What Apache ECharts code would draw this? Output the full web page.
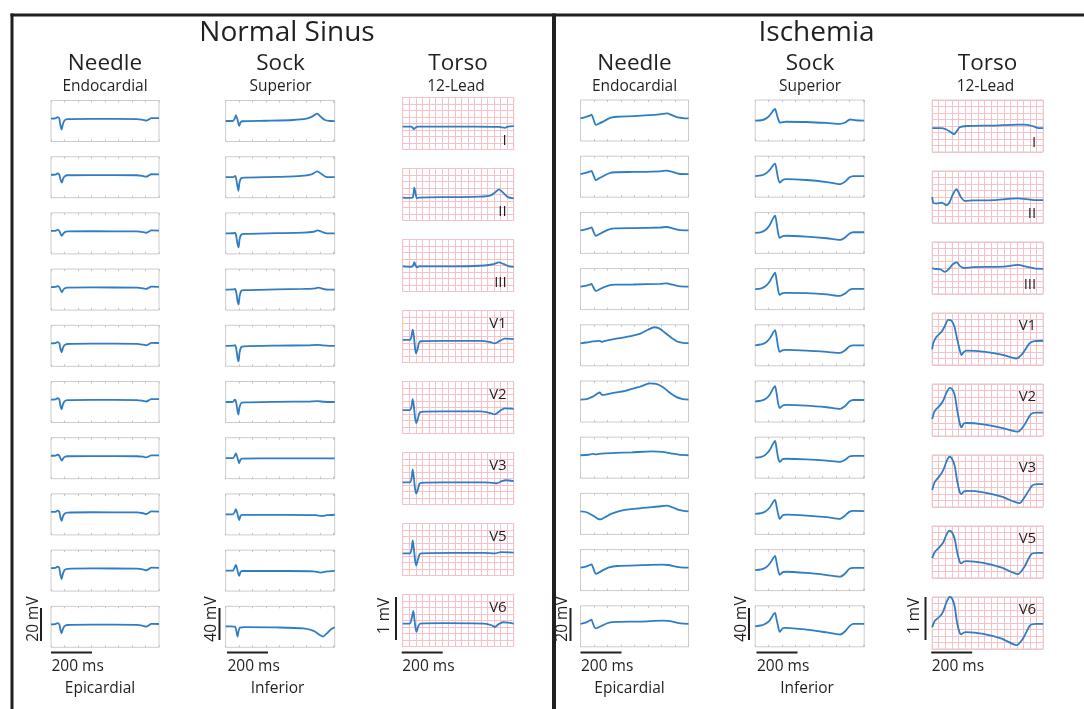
<!DOCTYPE html>
<html><head><meta charset="utf-8">
<script src="https://cdn.jsdelivr.net/npm/echarts@6/dist/echarts.min.js"></script>
<style>html,body{margin:0;padding:0;background:#fff}#c{width:1084px;height:709px}</style>
</head><body><div id="c"></div>
<script>
// ---------- text ----------
const panelTitles = ['Normal Sinus', 'Ischemia'];
const columnHeaders = ['Needle', 'Sock', 'Torso'];
const columnSubHeaders = ['Endocardial', 'Superior', '12-Lead'];
const columnFooters = ['Epicardial', 'Inferior', ''];
const leadLabels = ['I', 'II', 'III', 'V1', 'V2', 'V3', 'V5', 'V6'];
const voltageScaleLabels = ['20 mV', '40 mV', '1 mV'];
const timeScaleLabel = '200 ms';

// ---------- data: [time ms, voltage mV] ----------
const nsNeedle = [
 [[0,0],[22,0.1],[32,0.9],[40,0.2],[46,-4],[52,-6.7],[58,-3.5],[66,-1.2],[80,-0.4],[200,-0.2],[420,-0.3],[450,-0.8],[465,-1.3],[478,-0.6],[490,0.3],[528,0.2]],
 [[0,0],[22,0.1],[32,0.8],[40,0.2],[46,-2.8],[53,-4.8],[59,-2.5],[67,-1],[80,-0.3],[200,-0.2],[420,-0.3],[450,-0.8],[465,-1.2],[478,-0.5],[490,0.3],[528,0.2]],
 [[0,0],[22,0.1],[32,0.7],[40,0.1],[47,-1.8],[53,-3],[60,-1.6],[68,-0.7],[80,-0.3],[200,-0.2],[420,-0.3],[450,-0.7],[465,-1.1],[478,-0.4],[490,0.3],[528,0.2]],
 [[0,0],[22,0.1],[32,0.6],[40,0.1],[47,-1.8],[53,-3.1],[60,-1.6],[68,-0.7],[80,-0.3],[200,-0.2],[420,-0.3],[450,-0.7],[465,-1.1],[478,-0.4],[490,0.3],[528,0.2]],
 [[0,0],[22,0.1],[32,0.8],[40,0.2],[46,-3.2],[52,-5.5],[58,-2.9],[66,-1.1],[80,-0.4],[200,-0.2],[420,-0.3],[450,-0.8],[465,-1.2],[478,-0.5],[490,0.3],[528,0.2]],
 [[0,0],[22,0.1],[32,0.8],[40,0.2],[46,-3.5],[52,-6],[58,-3.1],[66,-1.1],[80,-0.4],[200,-0.2],[420,-0.3],[450,-0.8],[465,-1.2],[478,-0.5],[490,0.3],[528,0.2]],
 [[0,0],[22,0.1],[32,0.6],[40,0.1],[47,-1.8],[53,-3],[60,-1.5],[68,-0.6],[80,-0.3],[200,-0.2],[420,-0.3],[450,-0.6],[465,-1],[478,-0.4],[490,0.2],[528,0.2]],
 [[0,0],[22,0.1],[32,0.8],[40,0.2],[46,-3.2],[52,-5.5],[58,-2.9],[66,-1.1],[80,-0.4],[200,-0.2],[420,-0.3],[450,-0.8],[465,-1.3],[478,-0.5],[490,0.3],[528,0.2]],
 [[0,0],[22,0.1],[32,0.9],[40,0.2],[46,-4],[52,-6.7],[58,-3.5],[66,-1.2],[80,-0.4],[200,-0.2],[420,-0.3],[450,-0.8],[465,-1.3],[478,-0.6],[490,0.3],[528,0.2]],
 [[0,0],[22,0.1],[32,0.8],[40,0.2],[46,-3.2],[52,-5.5],[58,-2.9],[66,-1.1],[80,-0.4],[200,-0.2],[420,-0.3],[450,-0.9],[465,-1.4],[478,-0.6],[490,0.3],[528,0.2]]
];
const nsSock = [
 [[0,0],[35,0],[44,3],[50,7],[56,3],[62,-3],[66,-6],[72,-2],[80,-0.3],[200,0.3],[330,1.2],[390,2.5],[420,5],[447,9],[465,5],[485,1.2],[510,0],[533,-0.2]],
 [[0,0],[38,0.2],[46,1.5],[52,-3],[58,-12],[62,-16.6],[67,-7],[75,-1.5],[90,-0.5],[250,0.4],[370,1.5],[420,3.5],[448,7],[468,4],[490,0.5],[533,0]],
 [[0,0],[38,0.2],[46,1],[52,-4],[58,-13],[63,-17],[68,-7],[76,-1.5],[90,-0.5],[250,0.3],[380,1],[430,2],[450,3.6],[470,2],[495,0],[533,0]],
 [[0,0],[38,0.2],[46,0.8],[52,-4],[58,-14],[63,-18],[68,-8],[76,-1.5],[90,-0.6],[250,0.2],[380,0.8],[440,1.6],[455,2.4],[475,1],[500,0],[533,0]],
 [[0,0],[38,0.2],[46,0.8],[52,-4],[58,-15],[63,-19],[68,-8],[76,-1.6],[90,-0.6],[250,0.2],[400,0.6],[450,1.2],[475,0.5],[505,0],[533,0]],
 [[0,0],[36,0.2],[44,3],[50,1],[56,-8],[62,-15.5],[67,-7],[75,-1.5],[90,-0.5],[250,0.2],[400,0.5],[450,1],[480,0.3],[533,0]],
 [[0,0],[35,0],[44,3],[50,6],[56,2],[62,-3.5],[66,-6],[72,-2],[80,-0.4],[250,-0.3],[400,-0.3],[533,-0.2]],
 [[0,0],[35,0],[44,3],[50,6.5],[56,2],[62,-4],[66,-7],[72,-2],[80,-0.5],[300,-0.5],[440,-1],[470,-2],[495,-1],[533,-0.4]],
 [[0,0],[35,0],[44,4],[50,7],[56,2],[62,-4],[66,-6.5],[72,-2],[80,-0.5],[300,-0.5],[430,-1],[465,-2.4],[495,-1],[533,-0.3]],
 [[0,0.5],[38,0.3],[46,0.2],[52,-5],[58,-12],[63,-5],[70,-1],[90,-0.5],[250,-0.8],[380,-2],[430,-5],[460,-10],[475,-12],[495,-8],[515,-3],[533,-0.5]]
];
const nsTorso = [
 [[0,-0.07],[40,-0.07],[48,-0.09],[55,-0.13],[63,-0.09],[75,-0.07],[200,-0.07],[350,-0.07],[470,-0.08],[500,-0.1],[515,-0.07],[543,-0.06]],
 [[0,-0.07],[40,-0.08],[50,-0.06],[57,0.16],[63,0.02],[70,-0.09],[80,-0.07],[250,-0.06],[380,-0.05],[430,-0.02],[455,0.06],[471,0.12],[490,0.05],[515,-0.06],[543,-0.09]],
 [[0,-0.02],[40,-0.03],[50,-0.01],[57,0.08],[63,0],[70,-0.04],[80,-0.02],[250,-0.02],[400,0],[445,0.03],[470,0.07],[495,0.03],[520,-0.02],[543,-0.03]],
 [[0,-0.08],[35,-0.08],[43,0.0],[49,0.16],[55,0.0],[60,-0.25],[65,-0.39],[72,-0.3],[80,-0.15],[88,-0.11],[200,-0.1],[380,-0.1],[430,-0.13],[450,-0.16],[475,-0.1],[499,-0.05],[543,-0.06]],
 [[0,-0.06],[35,-0.06],[43,0.02],[49,0.19],[55,0.02],[60,-0.22],[66,-0.36],[73,-0.28],[82,-0.13],[90,-0.1],[200,-0.09],[380,-0.09],[430,-0.13],[450,-0.16],[475,-0.08],[499,-0.02],[543,-0.03]],
 [[0,-0.09],[35,-0.09],[43,0.0],[49,0.21],[55,0.0],[60,-0.22],[66,-0.35],[73,-0.27],[82,-0.12],[90,-0.1],[200,-0.09],[400,-0.09],[440,-0.1],[460,-0.11],[485,-0.06],[505,-0.04],[543,-0.06]],
 [[0,-0.09],[35,-0.09],[43,0.0],[49,0.21],[55,0.0],[60,-0.22],[66,-0.37],[73,-0.26],[82,-0.12],[90,-0.09],[250,-0.08],[400,-0.08],[450,-0.09],[480,-0.06],[543,-0.07]],
 [[0,-0.07],[35,-0.07],[44,0.05],[52,0.22],[58,0.0],[63,-0.18],[68,-0.26],[75,-0.15],[85,-0.07],[200,-0.06],[400,-0.07],[435,-0.11],[450,-0.15],[470,-0.08],[490,-0.04],[515,-0.05],[543,-0.07]]
];
const isNeedle = [
 [[0,-0.2],[25,0.5],[45,1.5],[54,2],[60,0.5],[68,-2.5],[75,-4.2],[90,-3.4],[110,-2.2],[130,-0.8],[150,0.2],[180,0.8],[260,1.2],[387,2.2],[422,2.8],[450,1.6],[474,0.4],[500,0],[528,-0.2]],
 [[0,0.1],[25,0.8],[45,1.6],[54,2.1],[60,0.5],[68,-2],[75,-3.5],[90,-2.5],[110,-1.2],[140,0.6],[170,1.2],[260,1.4],[390,1.8],[420,2.2],[450,1.4],[480,0.3],[528,0.1]],
 [[0,0],[25,0.6],[45,1.4],[54,1.9],[60,0.4],[68,-2],[75,-3.3],[90,-2.4],[110,-1],[140,0.6],[170,1.2],[260,1.4],[390,1.8],[420,2.1],[450,1.3],[480,0.3],[528,0]],
 [[0,0],[25,0.5],[45,1.2],[54,1.6],[60,0.3],[68,-1.6],[75,-2.6],[90,-1.8],[110,-0.6],[140,0.8],[170,1.2],[260,1.3],[390,1.7],[420,2],[450,1.2],[480,0.3],[528,0]],
 [[0,-0.3],[30,0.2],[60,0.9],[95,1.2],[105,0.5],[115,1],[150,2],[220,3.5],[290,5.5],[330,8],[360,9.5],[385,8.8],[410,6.5],[440,3.5],[470,1],[500,0],[528,-0.2]],
 [[0,-0.3],[30,0],[60,1.5],[85,3.5],[95,4],[105,2.5],[115,2.5],[150,3.5],[220,5],[290,7.5],[340,9.5],[370,9.2],[400,7.5],[430,4.5],[465,1.5],[500,0],[528,-0.3]],
 [[0,0],[40,0.3],[60,0.8],[75,0.5],[90,0.8],[150,1.3],[250,1.8],[350,2.3],[400,2],[440,1.2],[480,0.4],[528,0]],
 [[0,0],[30,-0.5],[60,-2.5],[85,-4.5],[100,-4.8],[120,-3.5],[150,-1.5],[200,0.5],[280,1.8],[380,3],[420,3.5],[450,2.5],[480,1],[528,0]],
 [[0,0],[25,0.6],[45,1.6],[54,2],[60,0.5],[68,-2.2],[75,-3.8],[90,-3],[110,-1.5],[140,0.2],[180,1],[300,1.5],[400,1.8],[430,1.6],[460,0.8],[490,0.2],[528,0]],
 [[0,0],[25,0.8],[45,2],[54,2.5],[60,0.5],[68,-2],[75,-2.8],[90,-2],[110,-0.8],[140,0.8],[180,1.2],[300,1.4],[400,1.9],[430,1.8],[460,1],[490,0.3],[528,0]]
];
const isSock = [
 [[0,-0.2],[30,0.3],[50,2],[70,6],[88,12],[97,14],[104,9],[112,2],[122,-2.7],[135,-2],[150,-1.5],[250,-1.8],[350,-3],[415,-4.2],[440,-2.5],[463,1.2],[490,0.3],[533,-0.2]],
 [[0,0.8],[30,1.5],[50,3.5],[70,8],[88,14],[97,16],[104,9],[112,-2],[120,-7.3],[135,-4],[150,-3],[250,-4],[350,-6.5],[415,-9.2],[440,-6],[460,-1],[480,0.8],[533,0.8]],
 [[0,0],[30,1],[50,3.5],[70,9],[88,18],[97,21],[104,13],[112,0],[120,-6],[135,-4],[150,-3.5],[250,-4.5],[350,-6.5],[415,-8.6],[440,-5.5],[460,-1],[480,0.8],[533,0.8]],
 [[0,0],[30,1],[50,3.5],[70,9],[88,17],[97,20],[104,12],[112,-1],[120,-7],[135,-4.8],[150,-4.5],[250,-5],[350,-6.5],[415,-8.3],[440,-5.5],[460,-1],[480,0.3],[533,0.3]],
 [[0,0],[30,1],[50,3],[70,8],[88,15.5],[97,18.5],[104,11],[112,-2],[120,-8],[135,-6],[150,-5.7],[250,-6.5],[350,-8],[415,-9.3],[440,-6],[460,-1.5],[480,0],[533,0]],
 [[0,0],[30,1],[50,3],[70,8],[88,16],[97,18.8],[104,11],[112,-2],[120,-7.9],[135,-4.8],[150,-4.2],[250,-5],[350,-7],[415,-9],[440,-5.5],[460,0],[480,1.8],[533,1.8]],
 [[0,0],[30,1],[50,3.5],[70,9],[88,17.5],[97,20.4],[104,12],[112,0],[120,-5],[135,-1.8],[150,-1.3],[250,-2],[350,-3.5],[415,-5],[440,-2.5],[460,1.5],[480,2.3],[533,2.3]],
 [[0,0],[30,1],[50,3],[70,7.5],[88,14.5],[97,17],[104,10],[112,0],[120,-6],[135,-1.5],[150,-1],[250,-2],[350,-4],[415,-6],[440,-2],[460,2.5],[480,3.7],[533,3.5]],
 [[0,0],[30,1],[50,3],[70,7.5],[88,14.5],[97,17.3],[104,10],[112,0],[120,-5.7],[135,-2.5],[150,-2],[250,-3.5],[350,-6],[415,-8],[440,-4],[460,1.5],[480,2.8],[533,2.8]],
 [[0,0],[30,1],[50,3],[70,7],[88,14],[97,16.3],[104,9],[112,0],[120,-6.7],[135,-2.5],[150,-1.8],[250,-4],[350,-7.5],[415,-10],[440,-6],[460,0],[480,3],[533,3]]
];
const isTorso = [
 [[0,-0.05],[40,-0.05],[70,-0.08],[90,-0.14],[107,-0.19],[120,-0.12],[134,-0.03],[170,0],[300,0.01],[420,0.03],[450,0.03],[490,0],[520,-0.05],[543,-0.05]],
 [[0,0.0],[6,-0.14],[20,-0.15],[45,-0.13],[62,-0.17],[70,-0.19],[85,-0.12],[100,0.05],[119,0.18],[130,0.1],[140,0],[160,-0.09],[200,-0.08],[300,-0.07],[420,-0.03],[460,-0.05],[500,-0.07],[543,-0.07]],
 [[0,0],[10,-0.02],[40,-0.03],[62,-0.09],[80,-0.03],[100,0.08],[120,0.13],[135,0.05],[155,0],[200,0.02],[350,0.03],[420,0.07],[460,0.03],[500,-0.01],[543,-0.02]],
 [[0,-0.24],[5,-0.1],[21,0.05],[46,0.17],[62,0.3],[78,0.44],[95,0.42],[108,0.3],[122,0],[135,-0.26],[143,-0.37],[155,-0.3],[168,-0.27],[250,-0.29],[340,-0.36],[411,-0.45],[440,-0.35],[476,-0.1],[500,-0.05],[543,-0.04]],
 [[0,-0.21],[13,-0.02],[37,0.1],[54,0.22],[70,0.4],[86,0.51],[98,0.48],[110,0.35],[122,0],[135,-0.31],[143,-0.4],[155,-0.31],[168,-0.3],[250,-0.33],[340,-0.41],[419,-0.5],[450,-0.35],[484,-0.09],[510,-0.06],[543,-0.06]],
 [[0,-0.21],[13,-0.02],[37,0.12],[54,0.25],[70,0.45],[84,0.56],[96,0.52],[110,0.35],[122,0],[135,-0.26],[143,-0.3],[155,-0.24],[168,-0.23],[250,-0.26],[340,-0.36],[427,-0.51],[455,-0.35],[490,-0.1],[515,-0.07],[543,-0.07]],
 [[0,-0.14],[13,0],[37,0.12],[54,0.22],[70,0.4],[84,0.49],[96,0.46],[110,0.3],[122,0],[135,-0.23],[143,-0.26],[155,-0.22],[168,-0.21],[250,-0.25],[340,-0.36],[420,-0.51],[450,-0.35],[485,-0.05],[515,-0.02],[543,-0.02]],
 [[0,-0.1],[13,0.05],[37,0.15],[54,0.27],[70,0.48],[86,0.6],[98,0.56],[110,0.38],[122,0],[135,-0.23],[143,-0.26],[155,-0.22],[168,-0.21],[250,-0.25],[340,-0.36],[413,-0.51],[445,-0.35],[480,-0.05],[510,-0.02],[543,-0.02]]
];

// ---------- layout ----------
const panelDx = [0, 529.5];
const rowTopsSmall = [0, 1, 2, 3, 4, 5, 6, 7, 8, 9].map(i => 100.5 + 56.2 * i);
const rowTopsTorso = [0, 1, 2, 3, 4, 5, 6, 7].map(i => 97.5 + 71 * i);
const BLUE = '#2f7dc2';
const FONT = '"Open Sans", "Noto Sans", sans-serif';

const grids = [], xAxes = [], yAxes = [], series = [], graphics = [];

function addBox(kind, left, top, data) {
  const cfg = kind === 'needle' ? {w: 108, h: 41, xmax: 528, ymin: -14, ymax: 11}
            : kind === 'sock' ? {w: 109, h: 41, xmax: 533, ymin: -25, ymax: 25}
            : {w: 111, h: 52, xmax: 543, ymin: -0.6, ymax: 0.6};
  const gi = grids.length;
  const torso = kind === 'torso';
  grids.push({left: left, top: top, width: cfg.w, height: cfg.h, show: true,
    borderColor: '#cccccc', borderWidth: 1, backgroundColor: 'transparent'});
  const pink = '#f6c2c9';
  const xBase = {type: 'value', gridIndex: gi, min: 0, max: cfg.xmax,
    interval: torso ? cfg.xmax / 17 : 66,
    axisLine: {show: false, onZero: false}, axisLabel: {show: false},
    axisTick: {show: !torso, inside: true, length: 2, lineStyle: {color: '#c4c4c4'}}};
  const xi = xAxes.length;
  xAxes.push(Object.assign({}, xBase, {position: 'bottom',
    splitLine: {show: torso, lineStyle: {color: pink, width: 1}}}));
  if (!torso) xAxes.push(Object.assign({}, xBase, {position: 'top', splitLine: {show: false}}));
  yAxes.push({type: 'value', gridIndex: gi, min: cfg.ymin, max: cfg.ymax,
    interval: torso ? 0.15 : undefined,
    axisLine: {show: false, onZero: false}, axisLabel: {show: false}, axisTick: {show: false},
    splitLine: {show: torso, lineStyle: {color: pink, width: 1}}});
  series.push({type: 'line', xAxisIndex: xi, yAxisIndex: gi, data: data,
    showSymbol: false, smooth: 0.25, silent: true, animation: false,
    lineStyle: {color: BLUE, width: 1.8}, z: 5});
  return cfg;
}

function txt(x, y, s, size, align) {
  graphics.push({type: 'text', x: x, y: y, z: 20, silent: true,
    style: {text: s, fill: '#231f20', font: size + 'px ' + FONT, textAlign: align || 'center', textVerticalAlign: 'middle'}});
}
function line(x1, y1, x2, y2, w) {
  graphics.push({type: 'line', z: 20, silent: true, shape: {x1: x1, y1: y1, x2: x2, y2: y2},
    style: {stroke: '#231f20', lineWidth: w}});
}

const panels = [[nsNeedle, nsSock, nsTorso], [isNeedle, isSock, isTorso]];
const colLeft = [51, 225.7, 402.7];
const colCenter = [105, 280.5, 458];

panels.forEach((cols, p) => {
  const dx = panelDx[p];
  const tdy = p === 1 ? 2.5 : 0;
  cols[0].forEach((d, r) => addBox('needle', colLeft[0] + dx, rowTopsSmall[r] - (p ? 0.5 : 0), d));
  cols[1].forEach((d, r) => addBox('sock', colLeft[1] + dx, rowTopsSmall[r] - (p ? 0.5 : 0), d));
  cols[2].forEach((d, r) => {
    const top = rowTopsTorso[r] + tdy;
    const cfg = addBox('torso', colLeft[2] + dx, top, d);
    const lab = leadLabels[r];
    const isV = lab[0] === 'V';
    graphics.push({type: 'text', z: 20, silent: true,
      x: colLeft[2] + dx + cfg.w - 7, y: isV ? top + 13 : top + cfg.h - 9,
      style: {text: lab, fill: '#231f20', font: '15px ' + FONT, textAlign: 'right', textVerticalAlign: 'middle'}});
  });
  txt(287 + dx, 33, panelTitles[p], 28);
  for (let c = 0; c < 3; c++) {
    txt(colCenter[c] + dx, 64, columnHeaders[c], 22.5);
    txt(colCenter[c] + dx - (c === 2 ? 2 : 0), 86.5, columnSubHeaders[c], 15.5);
    if (columnFooters[c]) txt(colCenter[c] + dx - (c === 0 ? 5 : 3), 689, columnFooters[c], 15.5);
  }
  const hb = [[51, 92], [227, 268], [401.7, 442.7]];
  const vb = [[41, 608, 641], [219.5, 608, 640], [396, 597, 640]];
  const vt = [[33.5, 619], [212, 619], [385, 616]];
  for (let c = 0; c < 3; c++) {
    line(hb[c][0] + dx, 652.5, hb[c][1] + dx, 652.5, 2);
    txt(hb[c][0] + dx + 0.5, 667, timeScaleLabel, 15.5, 'left');
    line(vb[c][0] + dx, vb[c][1], vb[c][0] + dx, vb[c][2], 2);
    graphics.push({type: 'text', z: 20, silent: true, x: vt[c][0] + dx, y: vt[c][1], rotation: Math.PI / 2,
      style: {text: voltageScaleLabels[c], fill: '#231f20', font: '15.5px ' + FONT, textAlign: 'center', textVerticalAlign: 'middle'}});
  }
});

line(10.5, 15, 1084, 15, 3);
line(12, 13.5, 12, 709, 3);
line(554, 13.5, 554, 709, 4);

const chart = echarts.init(document.getElementById('c'), null, {renderer: 'canvas'});
chart.setOption({animation: false, grid: grids, xAxis: xAxes, yAxis: yAxes, series: series, graphic: graphics});
</script></body></html>
